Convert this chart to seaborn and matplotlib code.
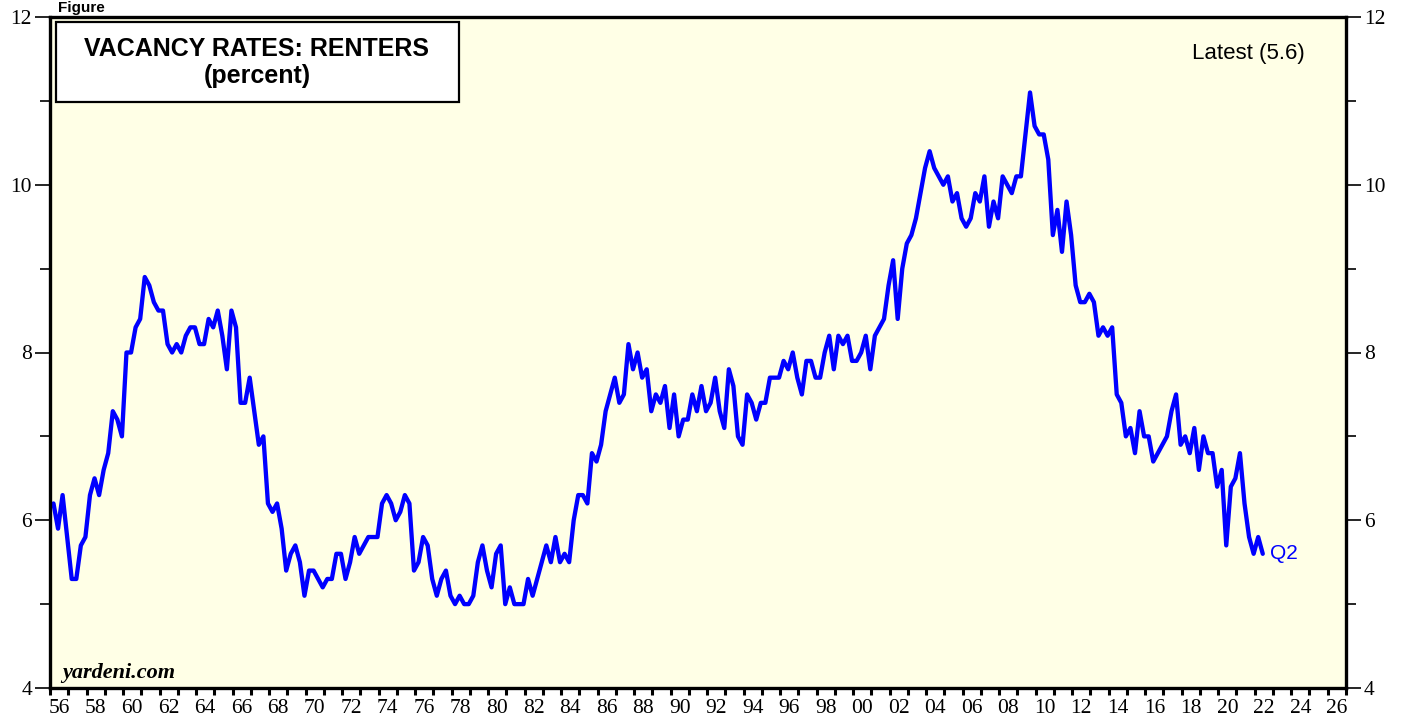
import numpy as np
import pandas as pd
import matplotlib
matplotlib.use("Agg")
import matplotlib.pyplot as plt
import seaborn as sns
from matplotlib.patches import Rectangle
from matplotlib.ticker import MultipleLocator, FixedLocator, NullFormatter, FixedFormatter

# Rental vacancy rate (percent), quarterly, 1956Q1 - 2022Q2
rate_1950s = [6.2, 5.9, 6.3, 5.8, 5.3, 5.3, 5.7, 5.8, 6.3, 6.5, 6.3, 6.6, 6.8, 7.3, 7.2, 7.0]
rate_1960s = [8.0, 8.0, 8.3, 8.4, 8.9, 8.8, 8.6, 8.5, 8.5, 8.1, 8.0, 8.1, 8.0, 8.2, 8.3, 8.3,
              8.1, 8.1, 8.4, 8.3, 8.5, 8.2, 7.8, 8.5, 8.3, 7.4, 7.4, 7.7, 7.3, 6.9, 7.0, 6.2,
              6.1, 6.2, 5.9, 5.4, 5.6, 5.7, 5.5, 5.1]
rate_1970s = [5.4, 5.4, 5.3, 5.2, 5.3, 5.3, 5.6, 5.6, 5.3, 5.5, 5.8, 5.6, 5.7, 5.8, 5.8, 5.8,
              6.2, 6.3, 6.2, 6.0, 6.1, 6.3, 6.2, 5.4, 5.5, 5.8, 5.7, 5.3, 5.1, 5.3, 5.4, 5.1,
              5.0, 5.1, 5.0, 5.0, 5.1, 5.5, 5.7, 5.4]
rate_1980s = [5.2, 5.6, 5.7, 5.0, 5.2, 5.0, 5.0, 5.0, 5.3, 5.1, 5.3, 5.5, 5.7, 5.5, 5.8, 5.5,
              5.6, 5.5, 6.0, 6.3, 6.3, 6.2, 6.8, 6.7, 6.9, 7.3, 7.5, 7.7, 7.4, 7.5, 8.1, 7.8,
              8.0, 7.7, 7.8, 7.3, 7.5, 7.4, 7.6, 7.1]
rate_1990s = [7.5, 7.0, 7.2, 7.2, 7.5, 7.3, 7.6, 7.3, 7.4, 7.7, 7.3, 7.1, 7.8, 7.6, 7.0, 6.9,
              7.5, 7.4, 7.2, 7.4, 7.4, 7.7, 7.7, 7.7, 7.9, 7.8, 8.0, 7.7, 7.5, 7.9, 7.9, 7.7,
              7.7, 8.0, 8.2, 7.8, 8.2, 8.1, 8.2, 7.9]
rate_2000s = [7.9, 8.0, 8.2, 7.8, 8.2, 8.3, 8.4, 8.8, 9.1, 8.4, 9.0, 9.3, 9.4, 9.6, 9.9, 10.2,
              10.4, 10.2, 10.1, 10.0, 10.1, 9.8, 9.9, 9.6, 9.5, 9.6, 9.9, 9.8, 10.1, 9.5, 9.8, 9.6,
              10.1, 10.0, 9.9, 10.1, 10.1, 10.6, 11.1, 10.7]
rate_2010s = [10.6, 10.6, 10.3, 9.4, 9.7, 9.2, 9.8, 9.4, 8.8, 8.6, 8.6, 8.7, 8.6, 8.2, 8.3, 8.2,
              8.3, 7.5, 7.4, 7.0, 7.1, 6.8, 7.3, 7.0, 7.0, 6.7, 6.8, 6.9, 7.0, 7.3, 7.5, 6.9,
              7.0, 6.8, 7.1, 6.6, 7.0, 6.8, 6.8, 6.4]
rate_2020s = [6.6, 5.7, 6.4, 6.5, 6.8, 6.2, 5.8, 5.6, 5.8, 5.6]

year_labels = ["56", "58", "60", "62", "64", "66", "68", "70", "72", "74", "76", "78", "80",
               "82", "84", "86", "88", "90", "92", "94", "96", "98", "00", "02", "04", "06",
               "08", "10", "12", "14", "16", "18", "20", "22", "24", "26"]

rate = rate_1950s + rate_1960s + rate_1970s + rate_1980s + rate_1990s + rate_2000s + rate_2010s + rate_2020s
quarters = pd.period_range("1956Q1", periods=len(rate), freq="Q")
df = pd.DataFrame({
    "year": quarters.year + (quarters.quarter - 1) / 4 + 0.19,
    "rate": rate,
})

sns.set_style("ticks")
plt.rcParams["font.family"] = ["Liberation Serif", "DejaVu Serif"]
plt.rcParams["text.color"] = "black"
plt.rcParams["xtick.color"] = "black"
plt.rcParams["ytick.color"] = "black"

fig = plt.figure(figsize=(14.06, 7.19), dpi=100)
ax = fig.add_axes([50 / 1406, 1 - 688 / 719, 1296 / 1406, 671 / 719])
ax.set_facecolor("#ffffe6")

sns.lineplot(data=df, x="year", y="rate", color="#0000ff", linewidth=3.1, ax=ax)

ax.set_xlim(1956, 2027)
ax.set_ylim(4, 12)
ax.set_xlabel("")
ax.set_ylabel("")

# x axis: yearly tick marks, labels centred in even years
ax.xaxis.set_major_locator(MultipleLocator(1))
ax.xaxis.set_major_formatter(NullFormatter())
ax.xaxis.set_minor_locator(FixedLocator([1956.5 + 2 * i for i in range(len(year_labels))]))
ax.xaxis.set_minor_formatter(FixedFormatter(year_labels))
ax.tick_params(axis="x", which="major", direction="out", length=5, width=2.2, color="black")
ax.tick_params(axis="x", which="minor", length=0, labelsize=15.5, pad=8, labelcolor="black")

# y axis: labels on both sides
ax.yaxis.set_major_locator(MultipleLocator(2))
ax.yaxis.set_minor_locator(MultipleLocator(1))
ax.tick_params(axis="y", which="major", direction="out", length=11, width=1.2, color="black",
               left=True, right=True, labelleft=True, labelright=True, labelsize=15.5, pad=2,
               labelcolor="black")
ax.tick_params(axis="y", which="minor", direction="out", length=7, width=1.2, color="black",
               left=True, right=True)

for side in ["left", "right", "top", "bottom"]:
    ax.spines[side].set_visible(True)
    ax.spines[side].set_color("black")
    ax.spines[side].set_linewidth(2.4)

sans = ["Liberation Sans", "DejaVu Sans"]

# title box
ax.add_patch(Rectangle((56 / 1406, 1 - 102 / 719), 403 / 1406, 80 / 719, transform=fig.transFigure,
                       facecolor="white", edgecolor="black", linewidth=1.6, zorder=5, clip_on=False))
fig.text(257 / 1406, 1 - 49.5 / 719, "VACANCY RATES: RENTERS", ha="center", va="center",
         fontsize=18, fontweight="bold", family=sans, color="black", zorder=6)
fig.text(257 / 1406, 1 - 76.5 / 719, "(percent)", ha="center", va="center",
         fontsize=18, fontweight="bold", family=sans, color="black", zorder=6)

fig.text(1248 / 1406, 1 - 54 / 719, "Latest (5.6)", ha="center", va="center",
         fontsize=16, family=sans, color="black")

ax.text(2022.85, 5.6, "Q2", ha="left", va="center", color="#0000ff", fontsize=15, family=sans)

ax.text(1956.65, 4.12, "yardeni.com", ha="left", va="baseline", fontsize=16,
        fontweight="bold", fontstyle="italic", color="black")

fig.text(58 / 1406, 1 - 1 / 719, "Figure", ha="left", va="top", fontsize=11,
         fontweight="bold", family=sans, color="black")

fig.savefig("out.png", dpi=100, facecolor="white")
